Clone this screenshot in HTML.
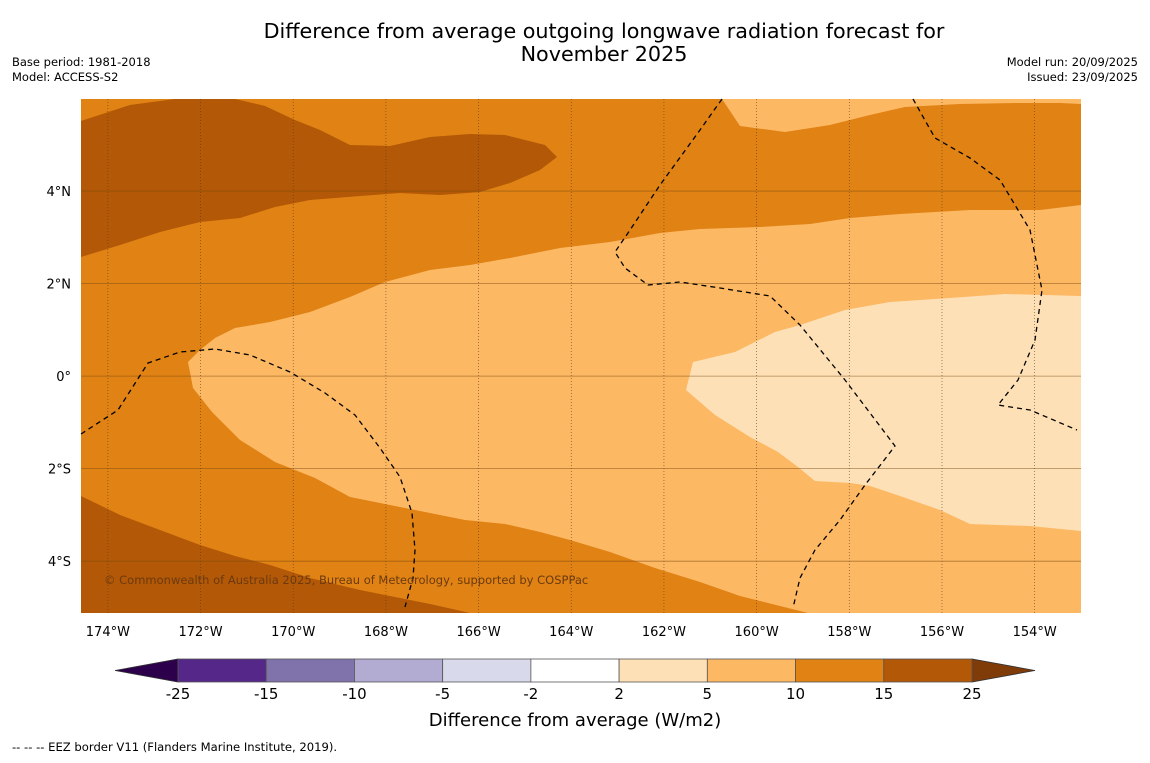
<!DOCTYPE html>
<html><head><meta charset="utf-8">
<style>
body{margin:0;background:#fff;width:1150px;height:758px;overflow:hidden;font-family:"Liberation Sans","DejaVu Sans",sans-serif;}
svg text{font-family:"DejaVu Sans","Liberation Sans",sans-serif;}
</style></head>
<body>
<svg id="chart" width="1150" height="758" viewBox="0 0 1150 758">
<text x="604" y="38" font-size="20.7" text-anchor="middle">Difference from average outgoing longwave radiation forecast for</text>
<text x="604" y="61" font-size="20.7" text-anchor="middle">November 2025</text>
<text x="12" y="66" font-size="11.5">Base period: 1981-2018</text>
<text x="12" y="81" font-size="11.5">Model: ACCESS-S2</text>
<text x="1138" y="66" font-size="11.5" text-anchor="end">Model run: 20/09/2025</text>
<text x="1138" y="81" font-size="11.5" text-anchor="end">Issued: 23/09/2025</text>
<g id="map"></g>
<g id="cbar"></g>
<text x="575" y="726" font-size="18" text-anchor="middle">Difference from average (W/m2)</text>
<text x="12" y="751" font-size="11.6">--  --  -- EEZ border V11 (Flanders Marine Institute, 2019).</text>
</svg>
<script>
// map extent
const lonMin=-174.58, lonMax=-153.0, latMin=-5.12, latMax=5.99;
const lonTicks=[-174,-172,-170,-168,-166,-164,-162,-160,-158,-156,-154];
const latTicks=[-4,-2,0,2,4];
const levels=[-25,-15,-10,-5,-2,2,5,10,15,25];
const levelColors=["#542788","#8073ac","#b2abd2","#d8daeb","#ffffff","#fee0b6","#fdb863","#e08214","#b35806"];
const extendLow="#2d004b", extendHigh="#7f3b08";
// contour regions traced (pixel trace converted to lon/lat below)
const darkNorthPx=[[81,121],[130,105],[175,99],[235,99],[265,106],[295,120],[320,130],[350,145],[390,146],[430,137],[470,134],[505,135],[545,145],[557,157],[540,170],[510,183],[480,192],[440,195],[400,193],[360,196],[310,200],[275,207],[240,218],[200,222],[160,232],[120,245],[81,257]];
const darkSouthPx=[[81,496],[120,515],[160,530],[200,545],[235,556],[270,565],[310,578],[360,590],[400,598],[430,604],[470,613],[81,613]];
const lightMainPx=[[200,350],[215,338],[235,328],[270,322],[310,312],[350,297],[385,282],[430,270],[470,265],[510,258],[560,248],[610,242],[660,233],[700,229],[760,227],[810,224],[850,218],[900,214],[970,210],[1040,210],[1081,205],[1081,613],[808,613],[780,606],[740,596],[700,582],[655,568],[610,552],[570,540],[540,532],[505,524],[465,520],[430,513],[395,506],[350,497],[315,478],[275,462],[240,440],[212,412],[193,388],[188,362]];
const lightNEPx=[[722,99],[740,126],[785,132],[830,125],[870,115],[905,107],[960,104],[1020,103],[1060,103],[1081,104],[1081,99]];
const paleEPx=[[693,362],[735,352],[775,332],[800,325],[845,310],[890,302],[950,298],[1005,294],[1081,296],[1081,531],[1030,526],[970,524],[940,510],[900,496],[870,486],[850,483],[815,481],[798,467],[778,452],[750,437],[715,415],[686,390]];
const eez1Px=[[81,434],[118,410],[148,363],[180,352],[215,349],[250,355],[290,372],[325,393],[355,415],[380,448],[400,477],[412,513],[415,550],[413,578],[405,607]];
const eez2Px=[[722,99],[700,130],[660,185],[630,230],[615,252],[625,268],[648,285],[680,282],[720,288],[770,296],[800,325],[845,380],[895,446],[865,485],[840,520],[815,550],[800,578],[793,608]];
const eez3Px=[[913,99],[935,138],[970,158],[1000,180],[1030,230],[1042,290],[1035,340],[1018,380],[998,405],[1030,410],[1077,430]];

const X0=81,X1=1081,Y0=99,Y1=613;
const toLL=p=>[lonMin+(p[0]-X0)/(X1-X0)*(lonMax-lonMin), latMax-(p[1]-Y0)/(Y1-Y0)*(latMax-latMin)];
const xS=lon=>X0+(lon-lonMin)/(lonMax-lonMin)*(X1-X0);
const yS=lat=>Y0+(latMax-lat)/(latMax-latMin)*(Y1-Y0);
const regions=[
 {pts:darkNorthPx.map(toLL),c:levelColors[8],n:"contour-15-25-north"},
 {pts:darkSouthPx.map(toLL),c:levelColors[8],n:"contour-15-25-south"},
 {pts:lightMainPx.map(toLL),c:levelColors[6],n:"contour-5-10-main"},
 {pts:lightNEPx.map(toLL),c:levelColors[6],n:"contour-5-10-northeast"},
 {pts:paleEPx.map(toLL),c:levelColors[5],n:"contour-2-5-east"}];
const eezLines=[eez1Px,eez2Px,eez3Px].map(a=>a.map(toLL));

const NS="http://www.w3.org/2000/svg";
function mk(tag,attrs,parent){const e=document.createElementNS(NS,tag);for(const k in attrs)e.setAttribute(k,attrs[k]);parent.appendChild(e);return e;}
const map=document.getElementById('map');
const bg=mk('rect',{x:X0,y:Y0,width:X1-X0,height:Y1-Y0,fill:levelColors[7]},map);


regions.forEach(r=>{
 const p=mk('polygon',{points:r.pts.map(q=>xS(q[0])+','+yS(q[1])).join(' '),fill:r.c},map);
 
 
});
lonTicks.forEach(l=>{
 const ln=mk('line',{x1:xS(l),x2:xS(l),y1:Y0,y2:Y1,stroke:'#5a3a1a','stroke-width':0.7,'stroke-dasharray':'1,2','stroke-opacity':0.8},map);
 
 
 const t=mk('text',{x:xS(l),y:636,'font-size':13,'text-anchor':'middle'},map);
 t.textContent=Math.abs(l)+'°W';
 
 
});
latTicks.forEach(l=>{
 const ln=mk('line',{x1:X0,x2:X1,y1:yS(l),y2:yS(l),stroke:'#7a4a10','stroke-width':0.8,'stroke-opacity':0.6},map);
 
 
 const t=mk('text',{x:71,y:yS(l)+5,'font-size':13,'text-anchor':'end'},map);
 t.textContent=l===0?'0°':Math.abs(l)+'°'+(l>0?'N':'S');
 
 
});
eezLines.forEach(a=>{
 const pl=mk('polyline',{points:a.map(q=>xS(q[0])+','+yS(q[1])).join(' '),fill:'none',stroke:'#000','stroke-width':1.3,'stroke-dasharray':'5,4','stroke-linejoin':'round'},map);
 
 
});
const cr=mk('text',{x:104,y:584,'font-size':11.5,fill:'#6b3a10'},map);
cr.textContent='© Commonwealth of Australia 2025, Bureau of Meteorology, supported by COSPPac';



// colorbar
const cb=document.getElementById('cbar');
const CB0=178,CB1=972,CBy=659,CBh=23,bw=(CB1-CB0)/levelColors.length;
const lo=mk('polygon',{points:`${CB0},${CBy} ${CB0},${CBy+CBh} 115,${CBy+CBh/2}`,fill:extendLow,stroke:'#333','stroke-width':0.8},cb);


const hi=mk('polygon',{points:`${CB1},${CBy} ${CB1},${CBy+CBh} 1035,${CBy+CBh/2}`,fill:extendHigh,stroke:'#333','stroke-width':0.8},cb);


levelColors.forEach((c,i)=>{
 const r=mk('rect',{x:CB0+i*bw,y:CBy,width:bw,height:CBh,fill:c,stroke:'#555','stroke-width':0.8},cb);
 
 
});
levels.forEach((v,i)=>{
 const t=mk('text',{x:CB0+i*bw,y:699,'font-size':15,'text-anchor':'middle'},cb);
 t.textContent=v;
 
 
});
</script>
</body></html>
